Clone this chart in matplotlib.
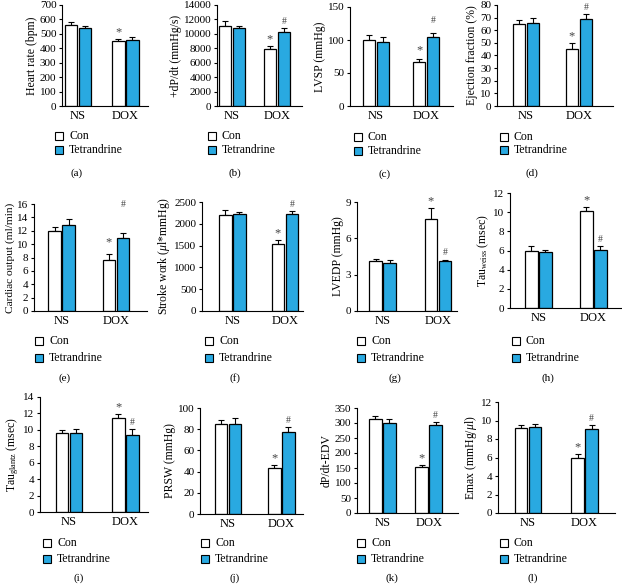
import numpy as np
import matplotlib
matplotlib.use("Agg")
import matplotlib.pyplot as plt
from matplotlib.patches import Rectangle

plt.rcParams['font.family'] = ['Liberation Serif', 'DejaVu Serif']
plt.rcParams['mathtext.fontset'] = 'custom'
plt.rcParams['mathtext.rm'] = 'Liberation Serif'
plt.rcParams['mathtext.it'] = 'Liberation Serif:italic'

# ---------------- data ----------------
groups = ["NS", "DOX"]
series = ["Con", "Tetrandrine"]
panel_labels = ["(a)", "(b)", "(c)", "(d)", "(e)", "(f)", "(g)", "(h)", "(i)", "(j)", "(k)", "(l)"]
ylabels = ["Heart rate (bpm)", "+dP/dt (mmHg/s)", "LVSP (mmHg)", "Ejection fraction (%)",
           "Cardiac output (ml/min)", r"Stroke work ($\mu$l*mmHg)", "LVEDP (mmHg)",
           r"Tau$_{\mathrm{weiss}}$ (msec)", r"Tau$_{\mathrm{glantz}}$ (msec)", "PRSW (mmHg)",
           "dP/dt-EDV", r"Emax (mmHg/$\mu$l)"]

con_mean = [560, 11100, 100, 65, 12.0, 2210, 4.1, 6.0, 9.6, 85, 315, 9.2]
con_err = [20, 700, 7, 3, 0.6, 100, 0.2, 0.45, 0.4, 3.5, 8, 0.3]
con_dox_mean = [450, 7900, 66, 45.5, 7.7, 1530, 7.6, 10.1, 11.5, 43, 153, 5.9]
con_dox_err = [15, 400, 5, 4.5, 0.8, 90, 0.9, 0.4, 0.45, 3, 7, 0.45]
tet_mean = [540, 10800, 97, 66, 12.9, 2220, 4.0, 5.85, 9.6, 85, 300, 9.3]
tet_err = [12, 300, 8, 3.5, 0.8, 60, 0.25, 0.25, 0.45, 5.5, 12, 0.35]
tet_dox_mean = [460, 10200, 104, 69, 10.9, 2220, 4.15, 6.05, 9.4, 77.5, 295, 9.1]
tet_dox_err = [18, 600, 7, 3.5, 0.8, 70, 0.1, 0.45, 0.7, 4.5, 7, 0.4]

ymax = [700, 14000, 150, 80, 16, 2500, 9, 12, 14, 100, 350, 12]
ystep = [100, 2000, 50, 10, 2, 500, 3, 2, 2, 20, 50, 2]
# significance marks: '*' on DOX Con, '#' on DOX Tetrandrine (None = auto height)
star_con_dox = [True] * 12
hash_tet_dox = [False] + [True] * 11
star_y = [None, None, 74, None, 9.3, None, None, None, None, None, None, None]
hash_y = [None, None, 120, None, 15.0, None, None, None, None, None, None, None]

# ---------------- layout (pixels) ----------------
W, H = 622, 585
# x0, x1, ytop, ybot, NS center frac, DOX center frac
axes_px = [
    (62, 148, 5, 106, 0.186, 0.738),
    (217, 302, 5, 106, 0.176, 0.706),
    (350, 453, 7, 106, 0.25, 0.74),
    (497, 613, 5, 106, 0.25, 0.707),
    (34, 147, 204, 311, 0.245, 0.724),
    (202, 303, 202, 311, 0.30, 0.82),
    (357, 457, 202, 311, 0.255, 0.81),
    (510, 621, 193, 308, 0.255, 0.75),
    (40, 148, 397, 512, 0.27, 0.79),
    (200, 303, 408, 514, 0.27, 0.79),
    (357, 458, 408, 513, 0.25, 0.71),
    (498, 615, 402, 513, 0.256, 0.74),
]
# legend square left x, Con y, Tet y, label x, label y
legend_px = [
    (55, 136, 150, 77, 173),
    (208, 136, 150, 235, 173),
    (354, 137, 151, 385, 174),
    (500, 137, 150, 532, 173),
    (35, 341, 358, 65, 378),
    (205, 341, 358, 235, 378),
    (357, 341, 358, 395, 378),
    (512, 341, 358, 548, 378),
    (43, 543, 559, 79, 578),
    (201, 543, 559, 235, 578),
    (357, 543, 559, 392, 578),
    (500, 543, 559, 533, 578),
]
ylabel_size = [8.5, 8.5, 8.5, 8.5, 8.2, 8.5, 8.5, 8.5, 8.5, 8.5, 8.5, 8.5]

BLUE = '#29a9e1'
fig = plt.figure(figsize=(W / 100, H / 100), dpi=100)

for i in range(12):
    x0, x1, yt, yb, fn, fd = axes_px[i]
    ax = fig.add_axes([x0 / W, 1 - yb / H, (x1 - x0) / W, (yb - yt) / H])
    span = fd - fn
    ax.set_xlim(-fn / span, (1 - fn) / span)
    axw = x1 - x0
    bw = 12.5 / axw / span
    gap = 1.5 / axw / span
    off = bw / 2 + gap / 2
    xs = np.arange(len(groups))
    cm = [con_mean[i], con_dox_mean[i]]
    ce = [con_err[i], con_dox_err[i]]
    tm = [tet_mean[i], tet_dox_mean[i]]
    te = [tet_err[i], tet_dox_err[i]]
    ax.bar(xs - off, cm, bw, color='white', edgecolor='black', linewidth=0.9, zorder=2)
    ax.bar(xs + off, tm, bw, color=BLUE, edgecolor='black', linewidth=0.9, zorder=2)
    ax.errorbar(xs - off, cm, yerr=[np.zeros(2), ce], fmt='none', ecolor='black',
                elinewidth=0.8, capsize=2.2, capthick=0.8, zorder=1)
    ax.errorbar(xs + off, tm, yerr=[np.zeros(2), te], fmt='none', ecolor='black',
                elinewidth=0.8, capsize=2.2, capthick=0.8, zorder=1)
    if star_con_dox[i]:
        sy = star_y[i] if star_y[i] is not None else cm[1] + ce[1]
        ax.annotate('*', (1 - off, sy), xytext=(0, 0.5), textcoords='offset points',
                    ha='center', va='bottom', fontsize=9, color='#444444')
    if hash_tet_dox[i]:
        hy = hash_y[i] if hash_y[i] is not None else tm[1] + te[1]
        ax.annotate('#', (1 + off, hy), xytext=(0, 1.5), textcoords='offset points',
                    ha='center', va='bottom', fontsize=7, color='#444444')
    ax.set_ylim(0, ymax[i])
    ax.set_yticks(np.arange(0, ymax[i] + ystep[i] / 2, ystep[i]))
    ax.set_xticks(xs)
    ax.set_xticklabels(groups, fontsize=9)
    ax.tick_params(axis='y', labelsize=8, length=2.5, width=0.8, pad=1.5)
    ax.tick_params(axis='x', length=0, pad=3)
    for s in ['top', 'right']:
        ax.spines[s].set_visible(False)
    for s in ['left', 'bottom']:
        ax.spines[s].set_linewidth(0.8)
    ax.set_ylabel(ylabels[i], fontsize=ylabel_size[i], labelpad=1.5)

    lx, ly1, ly2, plx, ply = legend_px[i]
    for yy, fc, name in [(ly1, 'white', series[0]), (ly2, BLUE, series[1])]:
        fig.add_artist(Rectangle((lx / W, 1 - (yy + 4) / H), 8 / W, 8 / H,
                                 transform=fig.transFigure, facecolor=fc,
                                 edgecolor='black', linewidth=0.8))
        fig.text((lx + 14) / W, 1 - yy / H, name, fontsize=8.5, va='center', ha='left')
    fig.text(plx / W, 1 - ply / H, panel_labels[i], fontsize=8, ha='center', va='center')

fig.savefig('out.png', dpi=100)
